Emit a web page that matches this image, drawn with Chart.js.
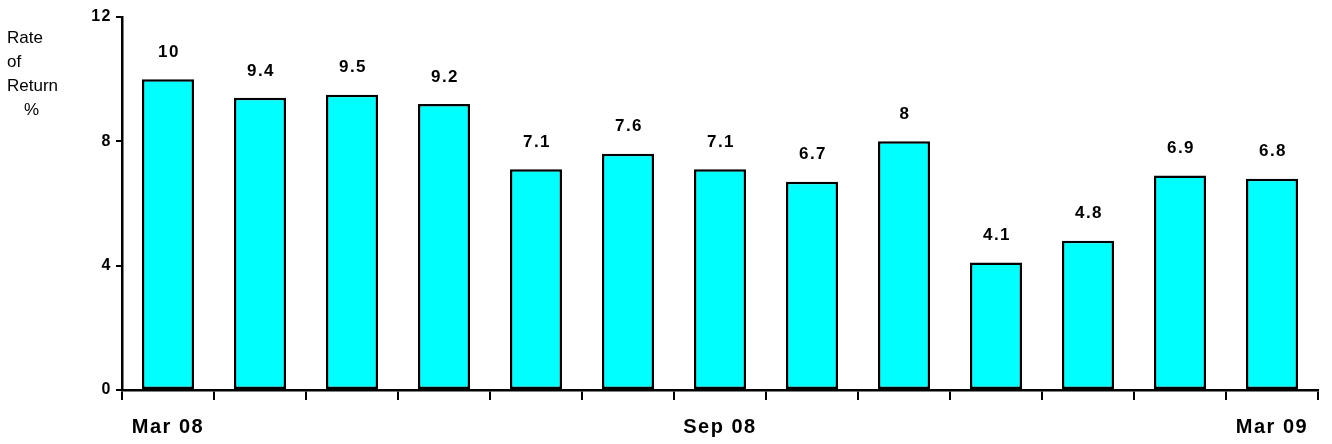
<!DOCTYPE html>
<html>
<head>
<meta charset="utf-8">
<script src="https://cdn.jsdelivr.net/npm/chart.js@4/dist/chart.umd.min.js"></script>
<style>
  body { margin: 0; background: #fff; }
  #wrap { width: 1332px; height: 444px; position: relative; }
</style>
</head>
<body>
<div id="wrap"><canvas id="returnChart"></canvas></div>
<script>
const FONT = "'Liberation Sans', Arial, sans-serif";
const BAR_COLOR = "#00FFFF";
const INK = "#000000";

const months = ["Mar 08", "Apr 08", "May 08", "Jun 08", "Jul 08", "Aug 08", "Sep 08",
  "Oct 08", "Nov 08", "Dec 08", "Jan 09", "Feb 09", "Mar 09"];
const shownMonths = ["Mar 08", "Sep 08", "Mar 09"];
const returns = [10, 9.4, 9.5, 9.2, 7.1, 7.6, 7.1, 6.7, 8, 4.1, 4.8, 6.9, 6.8];
const yTicks = [0, 4, 8, 12];
const yTitle = ["Rate", "of", "Return", "%"];

// value labels above each bar
const valueLabels = {
  id: "valueLabels",
  afterDatasetsDraw(chart) {
    const ctx = chart.ctx;
    const meta = chart.getDatasetMeta(0);
    ctx.save();
    ctx.font = "bold 17px " + FONT;
    ctx.letterSpacing = "1.5px";
    ctx.fillStyle = INK;
    ctx.textAlign = "center";
    ctx.textBaseline = "middle";
    meta.data.forEach((bar, i) => {
      ctx.fillText(String(returns[i]), bar.x + 1, bar.y - 27);
    });
    ctx.restore();
  },
};

// axis title on the left, stacked words
const axisTitle = {
  id: "axisTitle",
  afterDraw(chart) {
    const ctx = chart.ctx;
    const xs = [7, 7, 7, 24];
    ctx.save();
    ctx.letterSpacing = "0px";
    ctx.font = "17px " + FONT;
    ctx.fillStyle = INK;
    ctx.textBaseline = "middle";
    yTitle.forEach((word, i) => {
      ctx.fillText(word, xs[i], 38 + i * 24);
    });
    ctx.restore();
  },
};

const spacing = {
  id: "spacing",
  beforeDraw(chart) {
    chart.ctx.letterSpacing = "1.5px";
  },
};

new Chart(document.getElementById("returnChart"), {
  type: "bar",
  data: {
    labels: months,
    datasets: [
      {
        data: returns,
        backgroundColor: BAR_COLOR,
        borderColor: INK,
        borderWidth: 2.5,
        borderSkipped: false,
        categoryPercentage: 1,
        barPercentage: 0.565,
      },
    ],
  },
  options: {
    responsive: true,
    maintainAspectRatio: false,
    animation: false,
    layout: { padding: { top: 17, right: 14, left: 0, bottom: 0 } },
    plugins: {
      legend: { display: false },
      tooltip: { enabled: false },
    },
    scales: {
      x: {
        grid: {
          offset: true,
          drawOnChartArea: false,
          color: INK,
          lineWidth: 2,
          tickLength: 10,
        },
        border: { color: INK, width: 2.5 },
        ticks: {
          autoSkip: false,
          maxRotation: 0,
          padding: 15,
          color: INK,
          font: { family: FONT, size: 20, weight: "bold" },
          callback: function (value) {
            const lab = this.getLabelForValue(value);
            return shownMonths.includes(lab) ? lab : "";
          },
        },
        afterFit(scale) {
          scale.height = 54;
        },
      },
      y: {
        min: 0,
        max: 12,
        grid: {
          drawOnChartArea: false,
          color: INK,
          lineWidth: 2,
          tickLength: 6,
        },
        border: { color: INK, width: 2.5 },
        afterBuildTicks(scale) {
          scale.ticks = yTicks.map((v) => ({ value: v }));
        },
        ticks: {
          padding: 4,
          color: INK,
          font: { family: FONT, size: 16, weight: "bold" },
        },
        afterFit(scale) {
          scale.width = 122;
        },
      },
    },
  },
  plugins: [spacing, valueLabels, axisTitle],
});
</script>
</body>
</html>
